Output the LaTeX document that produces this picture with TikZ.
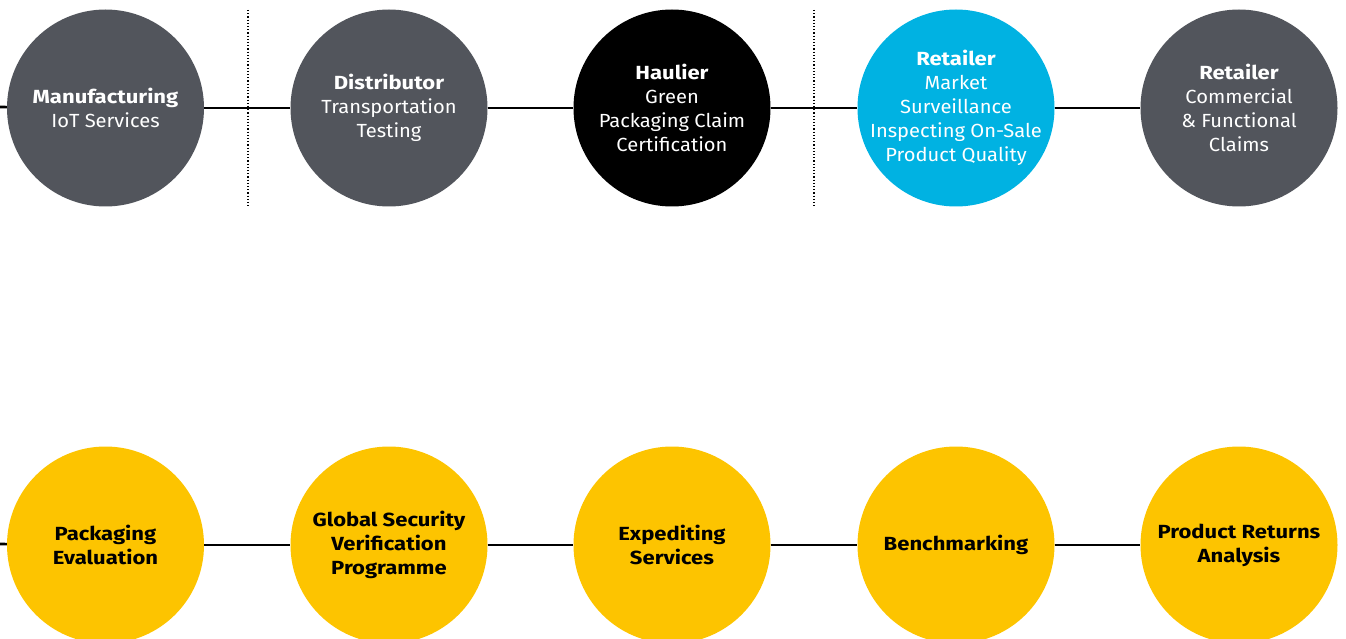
\documentclass[tikz,border=0pt]{standalone}
\usepackage{fontspec}
\setmainfont{Fira Sans}[FakeStretch=1.06, BoldFeatures={FakeStretch=1.16}]
\definecolor{cgrey}{HTML}{52555C}
\definecolor{ccyan}{HTML}{00B2E2}
\definecolor{cyellow}{HTML}{FDC400}
\tikzset{
  stage/.style={circle, minimum size=197pt, inner sep=-40pt, align=center,
    font=\fontsize{19}{24}\selectfont, text=white},
  greystage/.style={stage, fill=cgrey},
  blackstage/.style={stage, fill=black},
  cyanstage/.style={stage, fill=ccyan},
  yellowstage/.style={stage, fill=cyellow, text=black, font=\fontsize{19}{24}\selectfont\bfseries},
  link/.style={line width=2.6pt, black},
  divider/.style={line width=1.2pt, dotted, black}
}
\begin{document}
\begin{tikzpicture}[x=1pt,y=-1pt]
\useasboundingbox (0,0) rectangle (1346,639);
% top row
\coordinate (tstart) at (0,107);
\node[greystage] (t1) at (105.5,108) {\textbf{Manufacturing}\\IoT Services};
\node[greystage] (t2) at (389,108) {\textbf{Distributor}\\Transportation\\Testing};
\node[blackstage] (t3) at (672,108) {\textbf{Haulier}\\Green\\Packaging Claim\\Certification};
\node[cyanstage] (t4) at (956,108) {\textbf{Retailer}\\Market\\Surveillance\\Inspecting On-Sale\\Product Quality};
\node[greystage] (t5) at (1239,108) {\textbf{Retailer}\\Commercial\\\& Functional\\Claims};
\draw[link] (tstart) -- (t1);
\draw[link] (t1) -- (t2);
\draw[link] (t2) -- (t3);
\draw[link] (t3) -- (t4);
\draw[link] (t4) -- (t5);
\coordinate (d1a) at (248,10);
\coordinate (d1b) at (248,207);
\coordinate (d2a) at (814,10);
\coordinate (d2b) at (814,207);
\draw[divider] (d1a) -- (d1b);
\draw[divider] (d2a) -- (d2b);
% bottom row
\coordinate (bstart) at (0,544);
\node[yellowstage] (b1) at (105.5,545) {Packaging\\Evaluation};
\node[yellowstage] (b2) at (389,545) {Global Security\\Verification\\Programme};
\node[yellowstage] (b3) at (672,545) {Expediting\\Services};
\node[yellowstage] (b4) at (956,545) {Benchmarking};
\node[yellowstage] (b5) at (1239,545) {Product Returns\\Analysis};
\draw[link] (bstart) -- (b1);
\draw[link] (b1) -- (b2);
\draw[link] (b2) -- (b3);
\draw[link] (b3) -- (b4);
\draw[link] (b4) -- (b5);
\end{tikzpicture}
\end{document}
